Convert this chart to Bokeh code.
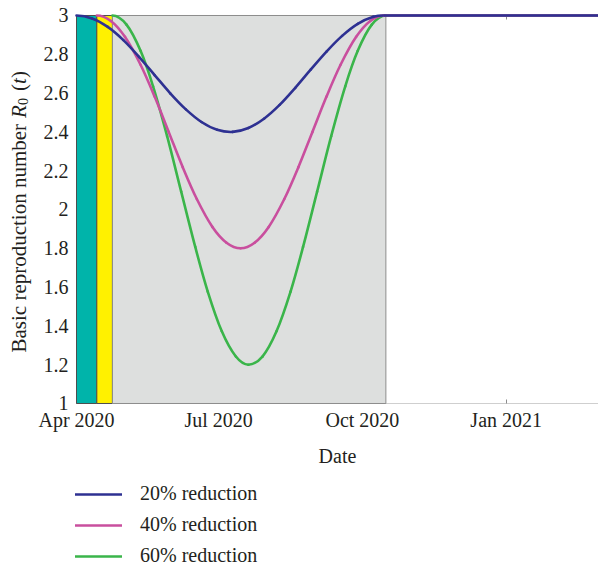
import numpy as np
from bokeh.plotting import figure
from bokeh.models import (FixedTicker, DatetimeAxis, LinearAxis, DatetimeTickFormatter, Legend,
                          LegendItem, Label, Range1d, Grid)
from bokeh.embed import file_html
from bokeh.resources import INLINE

# ---------------- data ----------------
START = "2020-04-01"          # day 0 = left end of the time axis
PLATEAU_END_DAY = 365         # all scenarios stay at R0 = 3 afterwards
R0_BASE = 3.0

blue_day = [0, 10, 20, 30, 40, 50, 60, 70, 80, 90, 100, 110, 120, 130, 140, 150, 160, 170, 180, 190, 197]
blue_r0 = [3.000, 2.985, 2.941, 2.873, 2.787, 2.693, 2.599, 2.516, 2.451, 2.411, 2.400,
           2.420, 2.468, 2.539, 2.627, 2.722, 2.814, 2.895, 2.957, 2.993, 3.000]

pink_day = [13, 22, 31, 41, 50, 59, 68, 77, 87, 96, 105, 114, 123, 133, 142, 151, 160, 169, 179, 188, 197]
pink_r0 = [3.000, 2.972, 2.890, 2.746, 2.582, 2.400, 2.218, 2.054, 1.910, 1.829, 1.800,
           1.829, 1.910, 2.054, 2.218, 2.400, 2.582, 2.746, 2.890, 2.972, 3.000]

green_day = [23, 32, 41, 49, 58, 67, 76, 84, 93, 102, 110, 119, 128, 137, 145, 154, 163, 172, 180, 189, 198]
green_r0 = [3.000, 2.953, 2.818, 2.635, 2.378, 2.092, 1.807, 1.577, 1.372, 1.242, 1.200,
            1.242, 1.372, 1.577, 1.807, 2.092, 2.378, 2.635, 2.818, 2.953, 3.000]

series_names = ["20% reduction", "40% reduction", "60% reduction"]
series_colors = ["#2E3192", "#C94F9E", "#3AB54A"]

phase_start_day = [0, 13, 23]
phase_end_day = [13, 23, 198]
phase_fill = ["#00B4AA", "#FFF100", "#DDDFDE"]
phase_line = ["#4D4D4D", "#4D4D4D", "#8C8C8C"]

x_tick_dates = ["2020-04-01", "2020-07-01", "2020-10-01", "2021-01-01"]
y_ticks = [1.0, 1.2, 1.4, 1.6, 1.8, 2.0, 2.2, 2.4, 2.6, 2.8, 3.0]
y_tick_labels = ["1", "1.2", "1.4", "1.6", "1.8", "2", "2.2", "2.4", "2.6", "2.8", "3"]
Y_MIN, Y_MAX = 1.0, 3.0

# ---------------- layout constants (canvas = frame) ----------------
W, H = 598, 567
VIEW_X_START_DAY, VIEW_X_END_DAY = -48.64, 334.08   # canvas edges in days
VIEW_Y_BOTTOM, VIEW_Y_TOP = 0.1546, 3.0773          # canvas edges in R0 units

FONT = "Liberation Serif"
TXT = "#231F20"

# ---------------- helpers ----------------
DAY_MS = 86400000
T0 = int(np.datetime64(START, "ms").astype("int64"))


def to_ms(days):
    return [float(T0 + d * DAY_MS) for d in days]


def smooth_segments(xs, ys):
    """Catmull-Rom spline through the read points, as cubic Bezier segments."""
    px = [2 * xs[0] - xs[1]] + list(xs) + [2 * xs[-1] - xs[-2]]
    py = [ys[1]] + list(ys) + [ys[-2]]
    seg = dict(x0=[], y0=[], x1=[], y1=[], cx0=[], cy0=[], cx1=[], cy1=[])
    for i in range(1, len(px) - 2):
        seg["x0"].append(px[i]); seg["y0"].append(py[i])
        seg["x1"].append(px[i + 1]); seg["y1"].append(py[i + 1])
        seg["cx0"].append(px[i] + (px[i + 1] - px[i - 1]) / 6.0)
        seg["cy0"].append(py[i] + (py[i + 1] - py[i - 1]) / 6.0)
        seg["cx1"].append(px[i + 1] - (px[i + 2] - px[i]) / 6.0)
        seg["cy1"].append(py[i + 1] - (py[i + 2] - py[i]) / 6.0)
    return seg


x_view = to_ms([VIEW_X_START_DAY, VIEW_X_END_DAY])

# ---------------- figure ----------------
p = figure(width=W, height=H,
           x_range=Range1d(x_view[0], x_view[1]),
           y_range=Range1d(VIEW_Y_BOTTOM, VIEW_Y_TOP),
           x_axis_location=None, y_axis_location=None,
           output_backend="svg", toolbar_location=None,
           min_border=0, min_border_left=0, min_border_right=0, min_border_top=0, min_border_bottom=0)
p.outline_line_color = None
p.background_fill_color = "white"
p.border_fill_color = "white"
for r in p.center:
    if isinstance(r, Grid):
        r.visible = False

# phases
p.quad(left=to_ms(phase_start_day), right=to_ms(phase_end_day), bottom=Y_MIN, top=Y_MAX,
       fill_color=phase_fill, line_color=phase_line, line_width=1)

# curves (drawn back to front: green, pink, blue)
all_series = [(blue_day, blue_r0), (pink_day, pink_r0), (green_day, green_r0)]
plateau_renderers = [None, None, None]
for idx in [2, 1, 0]:
    days, vals = all_series[idx]
    seg = smooth_segments(to_ms(days), vals)
    p.bezier(**seg, line_color=series_colors[idx], line_width=2.6, line_cap="round")
for idx in [2, 1, 0]:
    days, vals = all_series[idx]
    plateau_renderers[idx] = p.line(x=to_ms([days[-1], PLATEAU_END_DAY]), y=[R0_BASE, R0_BASE],
                                    line_color=series_colors[idx], line_width=2.6, line_cap="round")

# x axes (bottom with labels, top with ticks only)
xt = FixedTicker(ticks=to_ms([int((np.datetime64(d) - np.datetime64(START)).astype(int)) for d in x_tick_dates]))
fmt = DatetimeTickFormatter(days="%b %Y", months="%b %Y", years="%b %Y")
x_bounds = (to_ms([0])[0], x_view[1])

xax = DatetimeAxis(ticker=xt, formatter=fmt, fixed_location=Y_MIN, bounds=x_bounds,
                   axis_label="Date", axis_label_text_font=FONT, axis_label_text_font_style="normal",
                   axis_label_text_font_size="20px", axis_label_text_color=TXT, axis_label_standoff=10,
                   major_label_text_font=FONT, major_label_text_font_size="20px",
                   major_label_text_color=TXT, major_label_standoff=6,
                   axis_line_color="#CFCFCF", major_tick_line_color="#8C8C8C",
                   major_tick_in=4, major_tick_out=0, minor_tick_line_color=None,
                   level="underlay")
p.add_layout(xax, "below")

top_ax = DatetimeAxis(ticker=xt, formatter=fmt, fixed_location=Y_MAX, bounds=x_bounds,
                      major_label_text_color=None, major_label_text_font_size="1px",
                      major_label_standoff=0, major_tick_in=4, major_tick_out=0,
                      axis_line_color="#CFCFCF", major_tick_line_color="#8C8C8C",
                      minor_tick_line_color=None, level="underlay")
p.add_layout(top_ax, "above")

# y axis
yax = LinearAxis(ticker=FixedTicker(ticks=y_ticks), fixed_location=to_ms([0])[0], bounds=(Y_MIN, Y_MAX),
                 major_label_overrides={t: s for t, s in zip(y_ticks, y_tick_labels)},
                 major_label_text_font=FONT, major_label_text_font_size="20px",
                 major_label_text_color=TXT, major_label_standoff=8,
                 axis_line_color=None, major_tick_line_color=None, minor_tick_line_color=None,
                 major_tick_in=0, major_tick_out=0,
                 level="underlay")
p.add_layout(yax, "left")

# y axis title: "Basic reproduction number R0 (t)" with italic R, t and subscript 0
FS = 21.0
y_title_parts = [  # text, style, size(px), offset along the text (px), baseline shift (px)
    ("Basic reproduction number", "normal", FS, 0.0, 0.0),
    ("R", "italic", FS, 234.5, 0.0),
    ("0", "normal", 14.0, 247.5, 4.0),
    ("(", "normal", FS, 261.5, 0.0),
    ("t", "italic", FS, 268.5, 0.0),
    (")", "normal", FS, 274.5, 0.0),
]
TITLE_BASELINE_X = 18.5     # px from the left edge
TITLE_START_Y = H - 352.0   # px from the bottom edge
for text, style, size, off, shift in y_title_parts:
    p.add_layout(Label(x=TITLE_BASELINE_X + shift, y=TITLE_START_Y + off, x_units="screen", y_units="screen",
                       text=text, angle=np.pi / 2, text_align="left", text_baseline="alphabetic",
                       text_font=FONT, text_font_style=style, text_font_size=f"{size}px",
                       text_color=TXT))

# legend below the chart
legend = Legend(items=[LegendItem(label=series_names[i], renderers=[plateau_renderers[i]]) for i in range(3)],
                location=(75, 0), orientation="vertical",
                glyph_width=47, glyph_height=22, label_height=22, label_standoff=18,
                spacing=8, padding=0, margin=0,
                border_line_color=None, background_fill_alpha=0,
                label_text_font=FONT, label_text_font_size="20px", label_text_color=TXT)
p.add_layout(legend)

open("out.html", "w").write(file_html(p, INLINE))
